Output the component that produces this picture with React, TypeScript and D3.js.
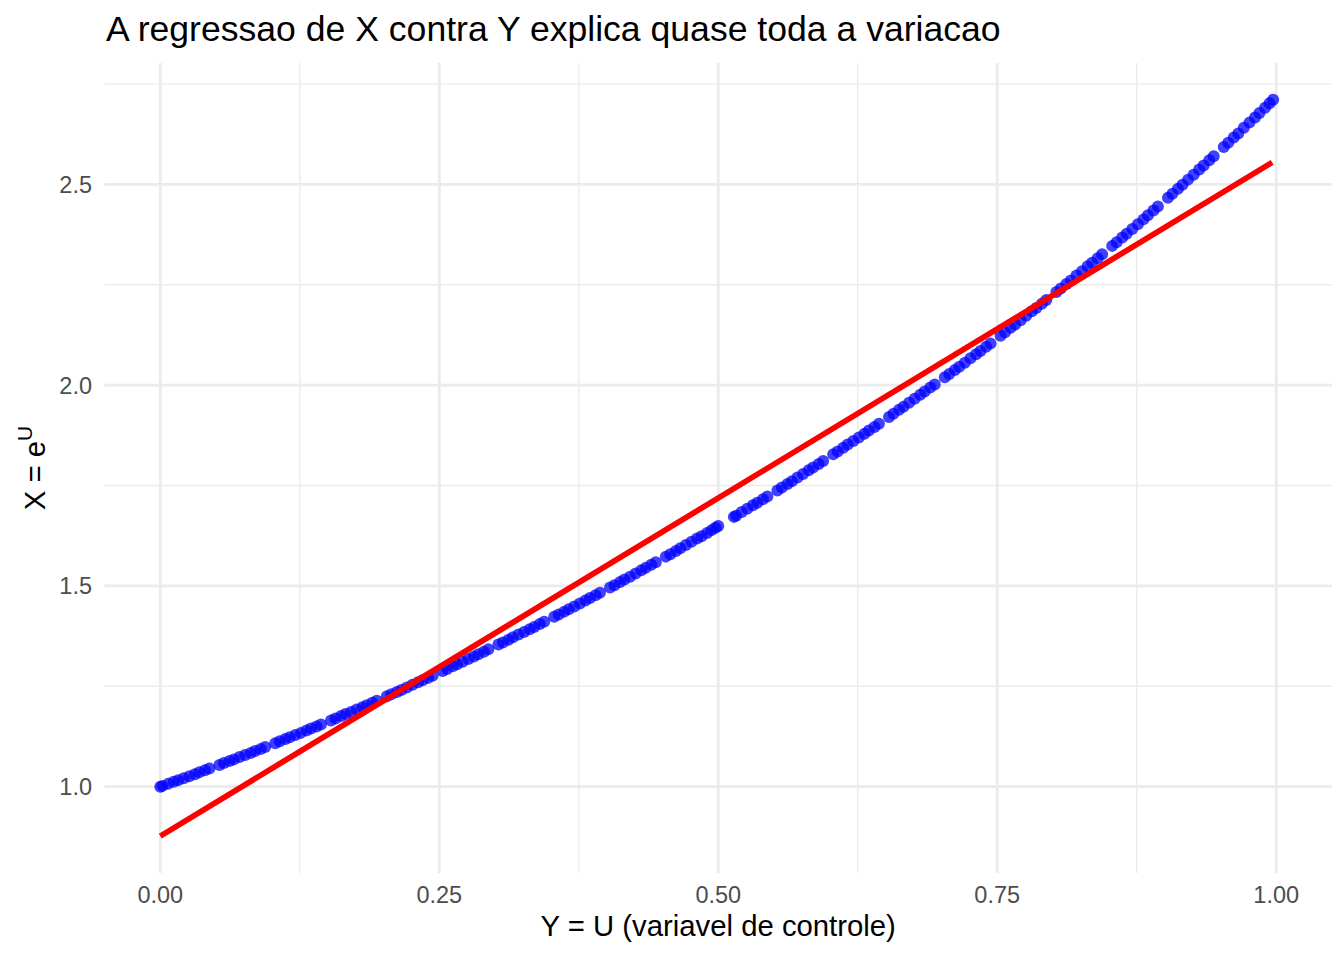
import * as d3 from 'd3';

// U values (control variable)
const uValues = [
  0.000, 0.002, 0.007, 0.012, 0.016, 0.021, 0.026, 0.031, 0.035, 0.040, 0.044,
  0.053, 0.057, 0.062, 0.066, 0.071, 0.076, 0.081, 0.085, 0.090, 0.094,
  0.103, 0.107, 0.112, 0.116, 0.121, 0.126, 0.131, 0.135, 0.140, 0.144,
  0.153, 0.157, 0.162, 0.166, 0.171, 0.176, 0.181, 0.185, 0.190, 0.194,
  0.203, 0.207, 0.212, 0.216, 0.221, 0.226, 0.231, 0.235, 0.240, 0.244,
  0.253, 0.257, 0.262, 0.266, 0.271, 0.276, 0.281, 0.285, 0.290, 0.294,
  0.303, 0.307, 0.312, 0.316, 0.321, 0.326, 0.331, 0.335, 0.340, 0.344,
  0.353, 0.357, 0.362, 0.366, 0.371, 0.376, 0.381, 0.385, 0.390, 0.394,
  0.403, 0.407, 0.412, 0.416, 0.421, 0.426, 0.431, 0.435, 0.440, 0.444,
  0.453, 0.457, 0.462, 0.466, 0.471, 0.476, 0.481, 0.485, 0.490, 0.494, 0.4975, 0.500,
  0.514, 0.516, 0.521, 0.526, 0.531, 0.535, 0.540, 0.544,
  0.553, 0.557, 0.562, 0.566, 0.571, 0.576, 0.581, 0.585, 0.590, 0.594,
  0.603, 0.607, 0.612, 0.616, 0.621, 0.626, 0.631, 0.635, 0.640, 0.644,
  0.653, 0.657, 0.662, 0.666, 0.671, 0.676, 0.681, 0.685, 0.690, 0.694,
  0.703, 0.707, 0.712, 0.716, 0.721, 0.726, 0.731, 0.735, 0.740, 0.744,
  0.753, 0.757, 0.762, 0.766, 0.771, 0.776, 0.781, 0.785, 0.790, 0.794,
  0.803, 0.807, 0.812, 0.816, 0.821, 0.826, 0.831, 0.835, 0.840, 0.844,
  0.853, 0.857, 0.862, 0.866, 0.871, 0.876, 0.881, 0.885, 0.890, 0.894,
  0.903, 0.907, 0.912, 0.916, 0.921, 0.926, 0.931, 0.935, 0.940, 0.944,
  0.953, 0.957, 0.962, 0.966, 0.971, 0.976, 0.981, 0.985, 0.990, 0.994, 0.9973,
];

// X = e^U values, same order
const xValues = [
  1.000, 1.002, 1.007, 1.012, 1.016, 1.021, 1.026, 1.031, 1.036, 1.041, 1.045,
  1.054, 1.059, 1.064, 1.068, 1.074, 1.079, 1.084, 1.089, 1.094, 1.099,
  1.108, 1.113, 1.119, 1.123, 1.129, 1.134, 1.140, 1.145, 1.150, 1.155,
  1.165, 1.170, 1.176, 1.181, 1.186, 1.192, 1.198, 1.203, 1.209, 1.214,
  1.225, 1.230, 1.236, 1.241, 1.247, 1.254, 1.260, 1.265, 1.271, 1.276,
  1.288, 1.293, 1.300, 1.305, 1.311, 1.318, 1.324, 1.330, 1.336, 1.342,
  1.354, 1.359, 1.366, 1.372, 1.379, 1.385, 1.392, 1.398, 1.405, 1.411,
  1.423, 1.429, 1.436, 1.442, 1.449, 1.456, 1.464, 1.470, 1.477, 1.483,
  1.496, 1.502, 1.510, 1.516, 1.523, 1.531, 1.539, 1.545, 1.553, 1.559,
  1.573, 1.579, 1.587, 1.594, 1.602, 1.610, 1.618, 1.624, 1.632, 1.639, 1.645, 1.649,
  1.672, 1.675, 1.684, 1.692, 1.701, 1.707, 1.716, 1.723,
  1.738, 1.745, 1.754, 1.761, 1.770, 1.779, 1.788, 1.795, 1.804, 1.811,
  1.828, 1.835, 1.844, 1.852, 1.861, 1.870, 1.879, 1.887, 1.896, 1.904,
  1.921, 1.929, 1.939, 1.946, 1.956, 1.966, 1.976, 1.984, 1.994, 2.002,
  2.020, 2.028, 2.038, 2.046, 2.056, 2.067, 2.077, 2.085, 2.096, 2.104,
  2.123, 2.132, 2.143, 2.151, 2.162, 2.173, 2.184, 2.192, 2.203, 2.212,
  2.232, 2.241, 2.252, 2.261, 2.273, 2.284, 2.296, 2.305, 2.316, 2.326,
  2.347, 2.356, 2.368, 2.377, 2.389, 2.401, 2.413, 2.423, 2.435, 2.445,
  2.467, 2.477, 2.489, 2.499, 2.512, 2.524, 2.537, 2.547, 2.560, 2.570,
  2.593, 2.604, 2.617, 2.627, 2.641, 2.654, 2.667, 2.678, 2.691, 2.702, 2.711,
];

// fitted lm line endpoints
const fitU = [0.0, 0.9964];
const fitX = [0.877, 2.555];

const xTicks = [0, 0.25, 0.5, 0.75, 1.0];
const xTickLabels = ['0.00', '0.25', '0.50', '0.75', '1.00'];
const xMinor = [0.125, 0.375, 0.625, 0.875];
const yTicks = [1.0, 1.5, 2.0, 2.5];
const yTickLabels = ['1.0', '1.5', '2.0', '2.5'];
const yMinor = [1.25, 1.75, 2.25, 2.75];

const title = 'A regressao de X contra Y explica quase toda a variacao';
const xTitle = 'Y = U (variavel de controle)';

const W = 1344;
const H = 960;
const FONT = '"Liberation Sans", Arial, Helvetica, sans-serif';

const App = () => {
  const left = 104.5;
  const right = 1332;
  const top = 63;
  const bottom = 873;

  const x = d3.scaleLinear().domain([-0.05, 1.05]).range([left, right]);
  const y = d3.scaleLinear().domain([0.785, 2.8025]).range([bottom, top]);

  const pts = uValues.map((u, i) => ({ u, v: xValues[i] }));
  const fitLine = d3.line<number>()
    .x(d => x(fitU[d]))
    .y(d => y(fitX[d]))([0, 1]);

  return (
    <svg width={W} height={H} style={{ display: 'block', margin: -8 }} fontFamily={FONT}>
      <rect width={W} height={H} fill="#ffffff" />

      {/* grid */}
      {xMinor.map(t => (
        <line key={'xm' + t} x1={x(t)} x2={x(t)} y1={top} y2={bottom} stroke="#EBEBEB" strokeWidth={1.4} />
      ))}
      {yMinor.map(t => (
        <line key={'ym' + t} x1={left} x2={right} y1={y(t)} y2={y(t)} stroke="#EBEBEB" strokeWidth={1.4} />
      ))}
      {xTicks.map(t => (
        <line key={'xM' + t} x1={x(t)} x2={x(t)} y1={top} y2={bottom} stroke="#EBEBEB" strokeWidth={2.8} />
      ))}
      {yTicks.map(t => (
        <line key={'yM' + t} x1={left} x2={right} y1={y(t)} y2={y(t)} stroke="#EBEBEB" strokeWidth={2.8} />
      ))}

      {/* points */}
      {pts.map((p, i) => (
        <circle key={i} cx={x(p.u)} cy={y(p.v)} r={6} fill="#0000FF" fillOpacity={0.75} />
      ))}

      {/* regression line */}
      <path d={fitLine || ''} fill="none" stroke="#FF0000" strokeWidth={5.7} />

      {/* tick labels */}
      {xTicks.map((t, i) => (
        <text key={'xl' + t} x={x(t)} y={903} textAnchor="middle" fontSize={23.5} fill="#4D4D4D">
          {xTickLabels[i]}
        </text>
      ))}
      {yTicks.map((t, i) => (
        <text key={'yl' + t} x={92} y={y(t) + 8.5} textAnchor="end" fontSize={23.5} fill="#4D4D4D">
          {yTickLabels[i]}
        </text>
      ))}

      {/* titles */}
      <text x={106} y={41} fontSize={35.6} fill="#000000">{title}</text>
      <text x={(left + right) / 2} y={936} textAnchor="middle" fontSize={29.3} fill="#000000">{xTitle}</text>
      <text transform={`translate(45,${(top + bottom) / 2}) rotate(-90)`} textAnchor="middle" fontSize={29.3} fill="#000000">
        X = e<tspan fontSize={21} dy={-13}>U</tspan>
      </text>
    </svg>
  );
};

export default App;
